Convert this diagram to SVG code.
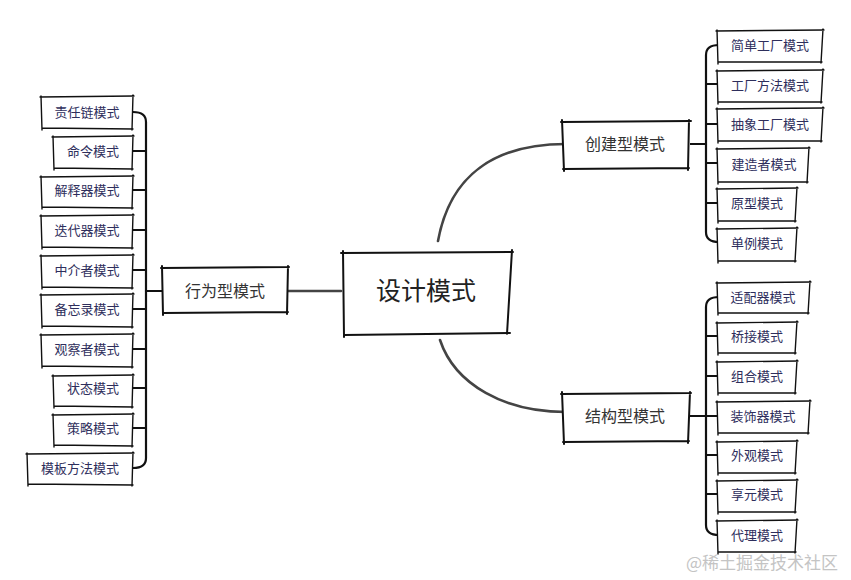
<svg xmlns="http://www.w3.org/2000/svg" width="851" height="580" viewBox="0 0 851 580">
<style>
.bg{fill:#fff}
.sk{fill:none;stroke:#111;stroke-width:1.4;stroke-linecap:round}
.skt{fill:none;stroke:#111;stroke-width:2;stroke-linecap:round}
.ct{font-family:"Noto Sans CJK SC","Noto Sans",sans-serif;font-size:13px;fill:#2e2e5c;text-anchor:middle;dominant-baseline:central}
.mt{font-family:"Noto Sans CJK SC","Noto Sans",sans-serif;font-size:16px;fill:#333;text-anchor:middle;dominant-baseline:central}
.cc{font-family:"Noto Sans CJK SC","Noto Sans",sans-serif;font-size:25px;fill:#222;text-anchor:middle;dominant-baseline:central}
.br{fill:none;stroke:#111;stroke-width:2.2;stroke-linecap:round}
.cv{fill:none;stroke:#444;stroke-width:2.6;stroke-linecap:round}
.wm{font-family:"Noto Sans CJK SC","Noto Sans",sans-serif;font-size:17px;fill:#c4c4c4}
</style>
<rect width="851" height="580" fill="#fff"/>
<g id="connectors">
<path class="cv" d="M438,241 C450,175 495,144 566,144"/>
<path class="cv" d="M440,340 C455,385 505,412 566,412"/>
<path class="cv" d="M288,291 H341"/>
<path class="br" d="M687,144 H706"/>
<path class="br" d="M719,45 Q706,45 706,55 L706,232 Q706,242 719,242"/>
<path class="br" d="M706,84 H719 M706,124 H719 M706,163 H719 M706,203 H719"/>
<path class="br" d="M687,416 H706"/>
<path class="br" d="M719,297 Q706,297 706,307 L706,525 Q706,535 719,535"/>
<path class="br" d="M706,336 H719 M706,376 H719 M706,416 H719 M706,455 H719 M706,494 H719"/>
<path class="br" d="M146,291 H163"/>
<path class="br" d="M133,112 Q146,112 146,122 L146,458 Q146,468 133,468"/>
<path class="br" d="M133,151 H146 M133,190 H146 M133,230 H146 M133,270 H146 M133,309 H146 M133,349 H146 M133,388 H146 M133,428 H146"/>
</g>
<g id="center">
<rect class="bg" x="343" y="253" width="169" height="80"/>
<path class="skt" d="M341,253 L513,252 M512,250 L507,334 M510,333 L344,335 M344,337 L343,251"/>
<text class="cc" x="426" y="289">设计模式</text>
</g>
<g id="creational">
<rect class="bg" x="562" y="122" width="128" height="47"/>
<path class="skt" d="M561,122 L691,121 M689,120 L688,170 M689,168 L563,169 M564,171 L562,120"/>
<text class="mt" x="625" y="143">创建型模式</text>
</g>
<g id="structural">
<rect class="bg" x="562" y="394" width="128" height="48"/>
<path class="skt" d="M561,394 L691,393 M690,392 L688,443 M689,441 L563,442 M564,444 L562,392"/>
<text class="mt" x="625" y="415">结构型模式</text>
</g>
<g id="behavioral">
<rect class="bg" x="162" y="268" width="126" height="45"/>
<path class="skt" d="M161,268 L289,267 M288,266 L287,314 M288,312 L163,313 M163,315 L162,266"/>
<text class="mt" x="225" y="290">行为型模式</text>
</g>
<g id="c1"><rect class="bg" x="717" y="31" width="106" height="31"/><path class="sk" d="M716,31 L824,30 M823,29 L821,63 M822,62 L718,62 M718,64 L717,30"/><text class="ct" x="770" y="44">简单工厂模式</text></g>
<g id="c2"><rect class="bg" x="717" y="71" width="106" height="31"/><path class="sk" d="M716,71 L824,70 M823,69 L821,103 M822,102 L718,102 M718,104 L717,70"/><text class="ct" x="770" y="84">工厂方法模式</text></g>
<g id="c3"><rect class="bg" x="717" y="109" width="106" height="32"/><path class="sk" d="M716,109 L824,108 M823,107 L821,142 M822,141 L718,141 M718,143 L717,108"/><text class="ct" x="770" y="123">抽象工厂模式</text></g>
<g id="c4"><rect class="bg" x="717" y="149" width="92" height="33"/><path class="sk" d="M716,149 L810,148 M809,147 L807,183 M808,182 L718,182 M718,184 L717,148"/><text class="ct" x="764" y="163">建造者模式</text></g>
<g id="c5"><rect class="bg" x="717" y="189" width="80" height="32"/><path class="sk" d="M716,189 L798,188 M797,187 L795,222 M796,221 L718,221 M718,223 L717,188"/><text class="ct" x="757" y="202">原型模式</text></g>
<g id="c6"><rect class="bg" x="717" y="229" width="80" height="32"/><path class="sk" d="M716,229 L798,228 M797,227 L795,262 M796,261 L718,261 M718,263 L717,228"/><text class="ct" x="757" y="242">单例模式</text></g>
<g id="s1"><rect class="bg" x="717" y="283" width="93" height="30"/><path class="sk" d="M716,283 L811,282 M810,281 L808,314 M809,313 L718,313 M718,315 L717,282"/><text class="ct" x="763" y="296">适配器模式</text></g>
<g id="s2"><rect class="bg" x="717" y="323" width="80" height="30"/><path class="sk" d="M716,323 L798,322 M797,321 L795,354 M796,353 L718,353 M718,355 L717,322"/><text class="ct" x="757" y="335">桥接模式</text></g>
<g id="s3"><rect class="bg" x="717" y="362" width="80" height="31"/><path class="sk" d="M716,362 L798,361 M797,360 L795,394 M796,393 L718,393 M718,395 L717,361"/><text class="ct" x="757" y="375">组合模式</text></g>
<g id="s4"><rect class="bg" x="717" y="402" width="93" height="31"/><path class="sk" d="M716,402 L811,401 M810,400 L808,434 M809,433 L718,433 M718,435 L717,401"/><text class="ct" x="763" y="415">装饰器模式</text></g>
<g id="s5"><rect class="bg" x="717" y="442" width="80" height="31"/><path class="sk" d="M716,442 L798,441 M797,440 L795,474 M796,473 L718,473 M718,475 L717,441"/><text class="ct" x="757" y="454">外观模式</text></g>
<g id="s6"><rect class="bg" x="717" y="481" width="80" height="31"/><path class="sk" d="M716,481 L798,480 M797,479 L795,513 M796,512 L718,512 M718,514 L717,480"/><text class="ct" x="757" y="493">享元模式</text></g>
<g id="s7"><rect class="bg" x="717" y="521" width="80" height="31"/><path class="sk" d="M716,521 L798,520 M797,519 L795,553 M796,552 L718,552 M718,554 L717,520"/><text class="ct" x="757" y="534">代理模式</text></g>
<g id="b1"><rect class="bg" x="41" y="97" width="92" height="32"/><path class="sk" d="M40,97 L134,96 M133,95 L132,130 M133,129 L42,128 M42,130 L41,96"/><text class="ct" x="87" y="111">责任链模式</text></g>
<g id="b2"><rect class="bg" x="53" y="137" width="80" height="32"/><path class="sk" d="M52,137 L134,136 M133,135 L132,170 M133,169 L54,168 M54,170 L53,136"/><text class="ct" x="93" y="150">命令模式</text></g>
<g id="b3"><rect class="bg" x="41" y="177" width="92" height="31"/><path class="sk" d="M40,177 L134,176 M133,175 L132,209 M133,208 L42,207 M42,209 L41,176"/><text class="ct" x="87" y="189">解释器模式</text></g>
<g id="b4"><rect class="bg" x="41" y="216" width="92" height="32"/><path class="sk" d="M40,216 L134,215 M133,214 L132,249 M133,248 L42,247 M42,249 L41,215"/><text class="ct" x="87" y="229">迭代器模式</text></g>
<g id="b5"><rect class="bg" x="41" y="256" width="92" height="32"/><path class="sk" d="M40,256 L134,255 M133,254 L132,289 M133,288 L42,287 M42,289 L41,255"/><text class="ct" x="87" y="269">中介者模式</text></g>
<g id="b6"><rect class="bg" x="41" y="295" width="92" height="32"/><path class="sk" d="M40,295 L134,294 M133,293 L132,328 M133,327 L42,326 M42,328 L41,294"/><text class="ct" x="87" y="308">备忘录模式</text></g>
<g id="b7"><rect class="bg" x="41" y="335" width="92" height="32"/><path class="sk" d="M40,335 L134,334 M133,333 L132,368 M133,367 L42,366 M42,368 L41,334"/><text class="ct" x="87" y="348">观察者模式</text></g>
<g id="b8"><rect class="bg" x="53" y="376" width="80" height="31"/><path class="sk" d="M52,376 L134,375 M133,374 L132,408 M133,407 L54,406 M54,408 L53,375"/><text class="ct" x="93" y="387">状态模式</text></g>
<g id="b9"><rect class="bg" x="53" y="415" width="80" height="31"/><path class="sk" d="M52,415 L134,414 M133,413 L132,447 M133,446 L54,445 M54,447 L53,414"/><text class="ct" x="93" y="427">策略模式</text></g>
<g id="b10"><rect class="bg" x="27" y="454" width="106" height="31"/><path class="sk" d="M26,454 L134,453 M133,452 L132,486 M133,485 L28,484 M28,486 L27,453"/><text class="ct" x="80" y="467">模板方法模式</text></g>
<text class="wm" x="686" y="569">@稀土掘金技术社区</text>
</svg>
